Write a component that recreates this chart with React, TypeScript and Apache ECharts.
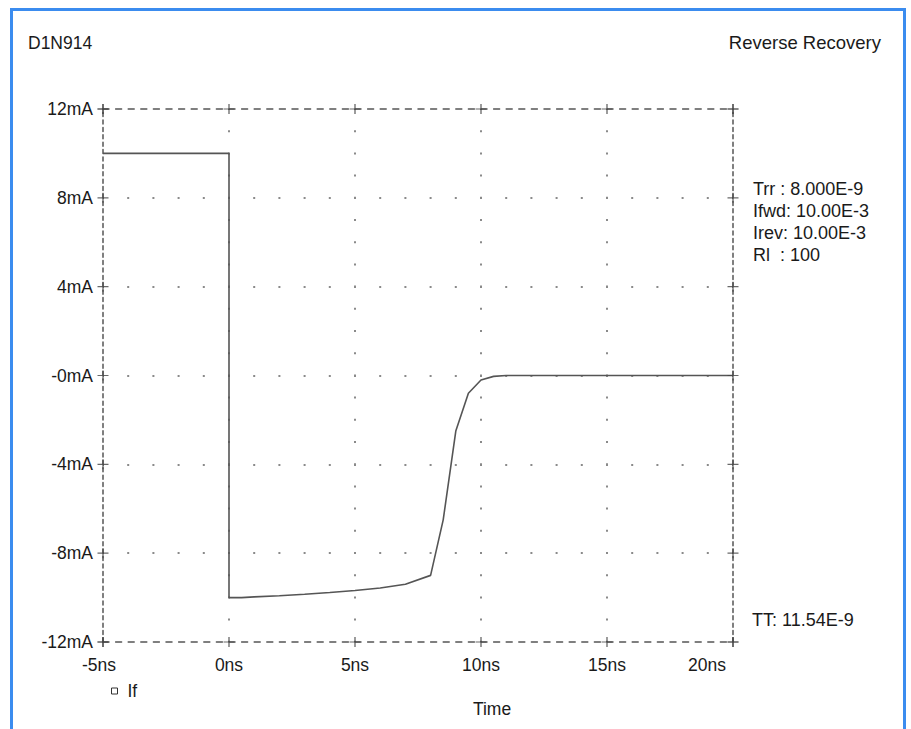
import React, { useEffect, useRef } from "react";
import * as echarts from "echarts";

// ---- data ----
const timeNs = [-5, 0, 0, 0.5, 1, 2, 3, 4, 5, 6, 7, 8, 8.5, 9, 9.5, 10, 10.5, 11, 20];
const currentMA = [10, 10, -10, -10, -9.97, -9.92, -9.85, -9.77, -9.68, -9.57, -9.4, -9.0, -6.5, -2.5, -0.8, -0.2, -0.04, 0, 0];
const xTicks = [-5, 0, 5, 10, 15, 20];
const yTicks = [-12, -8, -4, 0, 4, 8, 12];
const annotations = ["Trr : 8.000E-9", "Ifwd: 10.00E-3", "Irev: 10.00E-3", "Rl  : 100"];
const ttText = "TT: 11.54E-9";
const titleLeft = "D1N914";
const titleRight = "Reverse Recovery";
const seriesName = "If";

const FONT = "'Liberation Sans', Arial, Helvetica, sans-serif";
const TXT = "#1a1a1a";
const AX_FS = 17.5;

export default function App() {
  const ref = useRef<HTMLDivElement>(null);
  useEffect(() => {
    if (!ref.current) return;
    const chart = echarts.init(ref.current, undefined, { renderer: "svg" });
    const xMin = xTicks[0], xMax = xTicks[xTicks.length - 1];
    const yMin = yTicks[0], yMax = yTicks[yTicks.length - 1];
    const plusData: number[][] = [];
    xTicks.forEach((x) => { plusData.push([x, yMin]); plusData.push([x, yMax]); });
    yTicks.forEach((y) => { plusData.push([xMin, y]); plusData.push([xMax, y]); });
    const seriesData = timeNs.map((t, i) => [t, currentMA[i]]);

    const option: any = {
      animation: false,
      backgroundColor: "#ffffff",
      textStyle: { fontFamily: FONT },
      grid: { left: 103, right: 178, top: 109, bottom: 87, containLabel: false },
      legend: {
        left: 106,
        top: 677,
        data: [{ name: seriesName, icon: "rect" }],
        itemWidth: 6,
        itemHeight: 6,
        itemStyle: { color: "#ffffff", borderColor: "#333", borderWidth: 1 },
        textStyle: { fontFamily: FONT, fontSize: AX_FS, color: TXT, padding: [0, 0, 0, 5] },
      },
      xAxis: [
        {
          type: "value",
          position: "bottom",
          min: xMin,
          max: xMax,
          interval: 5,
          name: "Time",
          nameLocation: "middle",
          nameGap: 58,
          nameTextStyle: { fontFamily: FONT, fontSize: AX_FS, color: TXT, padding: [0, 0, 0, 148] },
          axisLine: { show: true, onZero: false, lineStyle: { color: "#555", width: 1.5, type: [6, 6.6] } },
          axisTick: { show: false },
          axisLabel: {
            margin: 14,
            fontFamily: FONT,
            fontSize: AX_FS,
            color: TXT,
            formatter: (v: number) => (v === xMax ? `{m|${v}ns}` : v === xMin ? `{n|${v}ns}` : `${v}ns`),
            rich: {
              m: { fontFamily: FONT, fontSize: AX_FS, color: TXT, padding: [0, 52, 0, 0] },
              n: { fontFamily: FONT, fontSize: AX_FS, color: TXT, padding: [0, 8, 0, 0] },
            },
          },
          splitLine: {
            show: true,
            showMinLine: false,
            showMaxLine: false,
            lineStyle: { color: "#8a8a8a", width: 2, type: [2, 20.2], dashOffset: 1 },
          },
        },
        {
          type: "value",
          position: "top",
          min: xMin,
          max: xMax,
          interval: 5,
          axisLine: { show: true, onZero: false, lineStyle: { color: "#555", width: 1.5, type: [6, 6.6] } },
          axisTick: { show: false },
          axisLabel: { show: false },
          splitLine: { show: false },
        },
      ],
      yAxis: [
        {
          type: "value",
          position: "left",
          min: yMin,
          max: yMax,
          interval: 4,
          axisLine: { show: true, onZero: false, lineStyle: { color: "#555", width: 1.5, type: [4, 3.4] } },
          axisTick: { show: false },
          axisLabel: {
            margin: 10,
            fontFamily: FONT,
            fontSize: AX_FS,
            color: TXT,
            formatter: (v: number) => (v === 0 ? "-0mA" : `${v}mA`),
          },
          splitLine: {
            show: true,
            showMinLine: false,
            showMaxLine: false,
            lineStyle: { color: "#8a8a8a", width: 2, type: [2, 23.2], dashOffset: 1 },
          },
        },
        {
          type: "value",
          position: "right",
          min: yMin,
          max: yMax,
          interval: 4,
          axisLine: { show: true, onZero: false, lineStyle: { color: "#555", width: 1.5, type: [4, 3.4] } },
          axisTick: { show: false },
          axisLabel: { show: false },
          splitLine: { show: false },
        },
      ],
      series: [
        {
          name: seriesName,
          type: "line",
          data: seriesData,
          showSymbol: false,
          symbol: "none",
          lineStyle: { color: "#555", width: 1.6 },
          itemStyle: { color: "#555" },
          z: 3,
        },
        {
          name: "ticks",
          type: "scatter",
          data: plusData,
          silent: true,
          symbol: "path://M4.4,0H5.6V10H4.4Z M0,4.4H10V5.6H0Z",
          symbolSize: [11, 10],
          itemStyle: { color: "#444" },
          z: 4,
        },
      ],
      graphic: [
        {
          type: "rect",
          shape: { x: 11.5, y: 9.5, width: 893, height: 800 },
          style: { fill: "none", stroke: "#3b8cef", lineWidth: 3 },
          silent: true,
        },
        {
          type: "text",
          x: 28,
          y: 43,
          style: { text: titleLeft, font: `17.5px ${FONT}`, fill: TXT, textVerticalAlign: "middle", verticalAlign: "middle" },
        },
        {
          type: "text",
          x: 881,
          y: 42,
          style: { text: titleRight, font: `18.5px ${FONT}`, fill: TXT, align: "right", textAlign: "right", verticalAlign: "middle", textVerticalAlign: "middle" },
        },
        ...annotations.map((t, i) => ({
          type: "text",
          x: 753,
          y: 189 + i * 22,
          style: { text: t, font: `18px ${FONT}`, fill: TXT, verticalAlign: "middle", textVerticalAlign: "middle" },
        })),
        {
          type: "text",
          x: 752,
          y: 620,
          style: { text: ttText, font: `18px ${FONT}`, fill: TXT, verticalAlign: "middle", textVerticalAlign: "middle" },
        },
      ],
    };
    chart.setOption(option);
    return () => chart.dispose();
  }, []);
  return <div ref={ref} style={{ position: "absolute", left: 0, top: 0, width: 911, height: 729 }} />;
}
